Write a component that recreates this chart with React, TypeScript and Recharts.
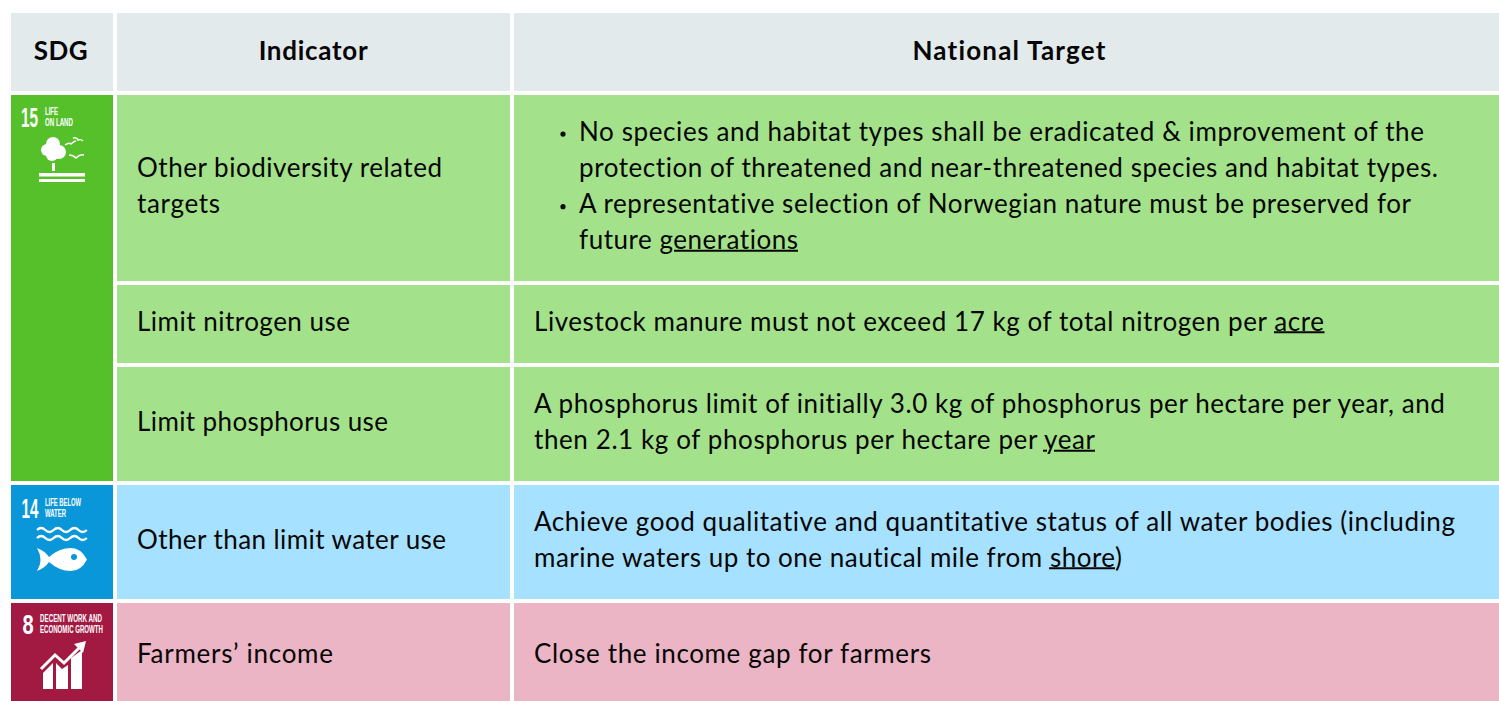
import React from "react";
import { ComposedChart, XAxis, YAxis, ReferenceArea, ReferenceLine, Scatter } from "recharts";

const W = 1499;
const H = 701;
const FONT = "Lato, 'Noto Sans', sans-serif";
const NARROW = "'Liberation Sans Narrow', 'Liberation Sans', sans-serif";

// table grid edges
const colEdges = [[11, 113], [117, 510], [514, 1499]];
const rowEdges = [[13, 91], [95, 281], [285, 363], [367, 481], [485, 599], [603, 701]];

const HEADER = "#E3EAEC";
const rowFill = ["#A3E28A", "#A3E28A", "#A3E28A", "#A6E1FF", "#EBB5C5"];
const sdgCells = [
  { from: 1, to: 3, fill: "#56C02B" },
  { from: 4, to: 4, fill: "#0A97D9" },
  { from: 5, to: 5, fill: "#A21942" },
];

const headers = ["SDG", "Indicator", "National Target"];
const headerWidths = [54, 109, 193];

const indicators = [
  ["Other biodiversity related", "targets"],
  ["Limit nitrogen use"],
  ["Limit phosphorus use"],
  ["Other than limit water use"],
  ["Farmers’ income"],
];
const indicatorWidths = [[305, 83], [213], [251], [309], [196]];

const targets = [
  [
    "No species and habitat types shall be eradicated & improvement of the",
    "protection of threatened and near-threatened species and habitat types.",
    "A representative selection of Norwegian nature must be preserved for",
    "future generations",
  ],
  ["Livestock manure must not exceed 17 kg of total nitrogen per acre"],
  [
    "A phosphorus limit of initially 3.0 kg of phosphorus per hectare per year, and",
    "then 2.1 kg of phosphorus per hectare per year",
  ],
  [
    "Achieve good qualitative and quantitative status of all water bodies (including",
    "marine waters up to one nautical mile from shore)",
  ],
  ["Close the income gap for farmers"],
];
const targetWidths = [[845, 859, 832, 219], [790], [911, 561], [921, 588], [397]];
const bulletLines = [0, 2];

// underlined link words: [x from, x to, y]
const underlines = [
  [674, 798, 250.7],
  [1274, 1324.5, 332.3],
  [1043, 1047, 450.7],
  [1054, 1095, 450.7],
  [1049, 1115, 568.3],
];

const rowTextCenters = [185, 321, 421, 539, 653];
const LINE = 36.3;

type TextPoint = {
  x: number; y: number; text: string; width: number; anchor: string; weight: number;
};
const textPoints: TextPoint[] = [];
headers.forEach((h, i) => {
  textPoints.push({
    x: [61, 313.5, 1009.5][i], y: 49.5, text: h,
    width: headerWidths[i], anchor: "middle", weight: 700,
  });
});
indicators.forEach((lines, r) => {
  lines.forEach((l, i) => {
    textPoints.push({
      x: 137, y: rowTextCenters[r] + (i - (lines.length - 1) / 2) * LINE,
      text: l, width: indicatorWidths[r][i], anchor: "start", weight: 400,
    });
  });
});
targets.forEach((lines, r) => {
  lines.forEach((l, i) => {
    textPoints.push({
      x: r === 0 ? 579 : 534, y: rowTextCenters[r] + (i - (lines.length - 1) / 2) * LINE,
      text: l, width: targetWidths[r][i], anchor: "start", weight: 400,
    });
  });
});
const bullets = bulletLines.map((i) => ({
  x: 563,
  y: rowTextCenters[0] + (i - 1.5) * LINE + 3.5,
}));

// fit each line to its measured width through letter spacing
const fitLine = (el: SVGTextElement | null, d: TextPoint) => {
  if (!el) return;
  el.setAttribute("letter-spacing", "0.001");
  const natural = el.getComputedTextLength();
  el.setAttribute("letter-spacing", String((d.width - natural) / Math.max(1, d.text.length - 1)));
};

const TextShape = (p: any) => {
  const d: TextPoint = p.payload;
  return (
    <text
      ref={(el) => fitLine(el, d)}
      x={p.cx}
      y={p.cy}
      dominantBaseline="central"
      textAnchor={d.anchor as any}
      fontFamily={FONT}
      fontSize={26}
      fontWeight={d.weight}
      fill="#060606"
    >
      {d.text}
    </text>
  );
};

const Label = ({ x, y, len, size, children, weight = 700 }: any) => (
  <text x={x} y={y} textLength={len} lengthAdjust="spacingAndGlyphs" fontFamily={NARROW}
    fontSize={size} fontWeight={weight} fill="#fff">{children}</text>
);
const Num = ({ x, y, sx, children }: any) => (
  <text transform={`translate(${x},${y}) scale(${sx},1)`} fontFamily={NARROW}
    fontSize={28} fontWeight={700} fill="#fff">{children}</text>
);

const Icon15 = () => (
  <g>
    <Num x={10} y={31.5} sx={0.55}>15</Num>
    <Label x={34} y={20} len={13} size={10.5}>LIFE</Label>
    <Label x={34} y={31} len={28} size={10.5}>ON LAND</Label>
    <g fill="#fff">
      <circle cx={36} cy={55} r={6} />
      <circle cx={42} cy={49} r={7} />
      <circle cx={48} cy={57} r={7} />
      <circle cx={41} cy={60} r={6} />
      <rect x={41} y={68} width={3} height={8} />
      <rect x={28} y={78} width={46} height={3.5} />
      <rect x={28} y={84} width={46} height={3} />
    </g>
    <g fill="none" stroke="#fff" strokeWidth={1.4}>
      <path d="M54 50 Q58 47 60 49 Q63 46 65 46" />
      <path d="M62 43 Q66 42 67 45 Q70 44 72 46" />
      <path d="M58 60 Q62 60 65 63 Q69 59 73 60" />
    </g>
  </g>
);

const wave = (y: number) => `M26 ${y} q4.2 -4 8.3 0 t8.3 0 t8.3 0 t8.3 0 t8.3 0 t8.3 0`;
const Icon14 = () => (
  <g>
    <Num x={10.5} y={33} sx={0.54}>14</Num>
    <Label x={34} y={21} len={36} size={10.5}>LIFE BELOW</Label>
    <Label x={34} y={32} len={21} size={10.5}>WATER</Label>
    <path d={wave(45)} fill="none" stroke="#fff" strokeWidth={2.4} />
    <path d={wave(53)} fill="none" stroke="#fff" strokeWidth={2.4} />
    <path
      d="M26 63 Q34 66 38 72 Q48 63 60 63 Q70 63 76 74.5 Q70 86 60 86 Q48 86 38 77 Q34 83 26 86 Q33 75 26 63 Z"
      fill="#fff"
    />
    <circle cx={63} cy={72} r={3} fill="#0A97D9" />
  </g>
);

const Icon8 = () => (
  <g>
    <Num x={11.5} y={30.5} sx={0.72}>8</Num>
    <Label x={29} y={19} len={62} size={10.5}>DECENT WORK AND</Label>
    <Label x={29} y={30} len={63} size={10.5}>ECONOMIC GROWTH</Label>
    <g fill="#fff">
      <path d="M32 86 V70 L42 60 V86 Z" />
      <path d="M45 86 V60 L51 66 L57 62 V86 Z" />
      <path d="M60 86 V55 L71 47 V86 Z" />
      <path d="M75 38 L63 41 L72 50 Z" />
    </g>
    <path d="M30 66 L44 52 L53 60 L69 44" fill="none" stroke="#fff" strokeWidth={3} />
  </g>
);

const iconPoints = [
  { x: 11, y: 95, kind: "15" },
  { x: 11, y: 485, kind: "14" },
  { x: 11, y: 603, kind: "8" },
];
const IconShape = (p: any) => {
  const k = p.payload.kind;
  return (
    <g transform={`translate(${p.cx},${p.cy})`}>
      {k === "15" ? <Icon15 /> : k === "14" ? <Icon14 /> : <Icon8 />}
    </g>
  );
};
const BulletShape = (p: any) => <circle cx={p.cx} cy={p.cy} r={2.6} fill="#0b0b0b" />;

export default function App() {
  return (
    <div style={{ position: "absolute", left: 0, top: 0, width: W, height: H, overflow: "hidden" }}>
      <ComposedChart width={W} height={H} margin={{ top: 0, right: 0, bottom: 0, left: 0 }} data={[]}>
        <XAxis type="number" dataKey="x" domain={[0, W]} hide allowDataOverflow />
        <YAxis type="number" dataKey="y" domain={[0, H]} reversed hide allowDataOverflow />
        {colEdges.map((c, i) => (
          <ReferenceArea key={"h" + i} x1={c[0]} x2={c[1]} y1={rowEdges[0][0]} y2={rowEdges[0][1]}
            fill={HEADER} fillOpacity={1} stroke="none" />
        ))}
        {sdgCells.map((s, i) => (
          <ReferenceArea key={"s" + i} x1={colEdges[0][0]} x2={colEdges[0][1]}
            y1={rowEdges[s.from][0]} y2={rowEdges[s.to][1]}
            fill={s.fill} fillOpacity={1} stroke="none" />
        ))}
        {rowFill.map((f, r) =>
          [1, 2].map((c) => (
            <ReferenceArea key={`c${r}-${c}`} x1={colEdges[c][0]} x2={colEdges[c][1]}
              y1={rowEdges[r + 1][0]} y2={rowEdges[r + 1][1]}
              fill={f} fillOpacity={1} stroke="none" />
          ))
        )}
        {underlines.map((u, i) => (
          <ReferenceLine key={"u" + i} segment={[{ x: u[0], y: u[2] }, { x: u[1], y: u[2] }]}
            stroke="#060606" strokeWidth={2} />
        ))}
        <Scatter data={textPoints} shape={TextShape} isAnimationActive={false} />
        <Scatter data={bullets} shape={BulletShape} isAnimationActive={false} />
        <Scatter data={iconPoints} shape={IconShape} isAnimationActive={false} />
      </ComposedChart>
    </div>
  );
}
